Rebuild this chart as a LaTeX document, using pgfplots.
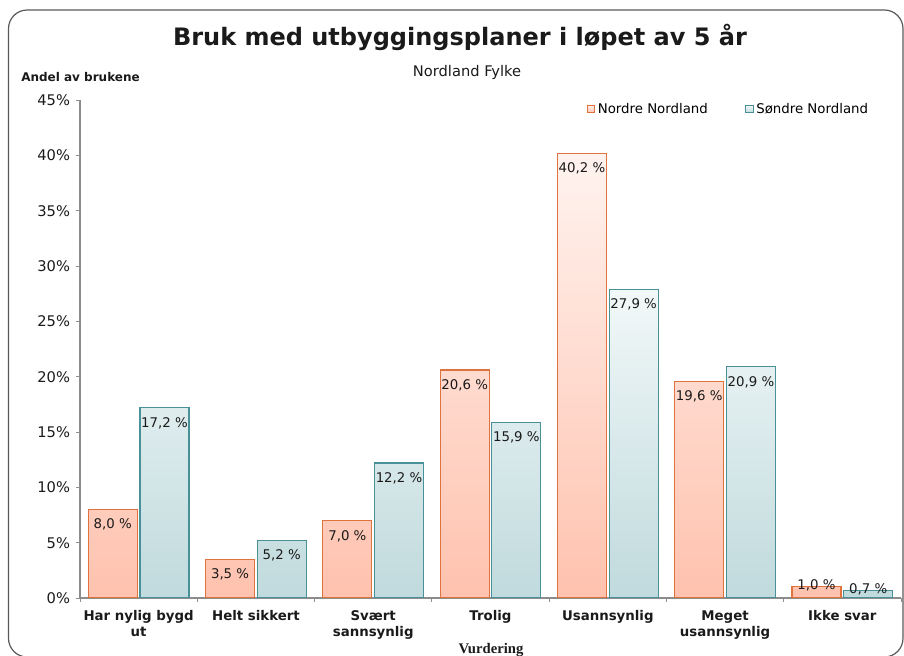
\documentclass[border=0pt]{standalone}
\usepackage{fontspec}
\setmainfont{DejaVu Sans}
\newfontfamily\serifb{Liberation Serif}
\usepackage{pgfplots}
\pgfplotsset{compat=1.18}
\definecolor{oedge}{HTML}{E0723E}
\definecolor{otop}{HTML}{FFF3EF}
\definecolor{obot}{HTML}{FFC2AE}
\definecolor{tedge}{HTML}{4A9098}
\definecolor{ttop}{HTML}{F2F8F8}
\definecolor{tbot}{HTML}{C0DADD}
\definecolor{axgray}{HTML}{8C8C8C}
\definecolor{txt}{HTML}{1A1A1A}
\begin{document}
\begin{tikzpicture}
\useasboundingbox (0,0) rectangle (678pt,492pt);
\begin{scope}[x=0.75pt,y=0.75pt]
\draw[color=black!65, line width=0.9pt, rounded corners=14pt] (8.5,646) rectangle (903,-1);
\node[font=\bfseries\fontsize{18}{21}\selectfont, text=txt] at (460,619) {Bruk med utbyggingsplaner i løpet av 5 år};
\node[font=\fontsize{11}{13}\selectfont, text=txt] at (467,584) {Nordland Fylke};
\node[font=\bfseries\fontsize{9}{10}\selectfont, anchor=west, inner sep=0pt, text=txt] at (21,579) {Andel av brukene};
\node[font=\serifb\bfseries\fontsize{11}{12}\selectfont, text=txt] at (491,6) {Vurdering};
\end{scope}
\begin{axis}[
  at={(60pt,43.5pt)}, anchor=south west,
  width=615.75pt, height=373.5pt, scale only axis,
  ymin=0, ymax=45, xmin=-0.5, xmax=6.5,
  axis x line=bottom, axis y line=left,
  axis line style={-, draw=axgray, line width=0.8pt},
  tick align=outside, major tick length=3pt,
  tick style={draw=axgray, line width=0.6pt},
  /pgf/number format/assume math mode=true,
  ytick={0,5,...,45},
  yticklabel={\pgfmathprintnumber{\tick}\%},
  yticklabel style={font=\fontsize{11}{13}\selectfont, text=txt, xshift=-1pt},
  xtick={-0.5,0.5,...,6.5},
  x tick label as interval,
  xticklabels={Har nylig bygd\\ut, Helt sikkert, Svært\\sannsynlig, Trolig, Usannsynlig, Meget\\usannsynlig, Ikke svar},
  xticklabel style={font=\bfseries\fontsize{10}{12}\selectfont, align=center, text=txt, yshift=-3pt},
  ybar, bar width=0.418,
  visualization depends on={y \as \rawy},
  nodes near coords={\pgfmathprintnumber[fixed,fixed zerofill,precision=1,use comma]{\pgfplotspointmeta}~\%},
  every node near coord/.append style={anchor=center, yshift={\rawy<3 ? 1 : -11.5}, font=\fontsize{10}{12}\selectfont, text=txt},
  legend image code/.code={\draw[#1] (0pt,-2.8pt) rectangle (5.5pt,2.8pt);},
  legend style={at={(0.612,0.982)}, anchor=west, draw=none, fill=none,
    font=\fontsize{10}{11}\selectfont, legend columns=2,
    /tikz/every even column/.append style={column sep=26pt}},
  legend cell align=left,
]
\addplot[draw=oedge, line width=0.8pt, top color=otop, bottom color=obot] coordinates {
  (0,8.0) (1,3.5) (2,7.0) (3,20.6) (4,40.2) (5,19.6) (6,1.0)};
\addplot[draw=tedge, line width=0.8pt, top color=ttop, bottom color=tbot] coordinates {
  (0,17.2) (1,5.2) (2,12.2) (3,15.9) (4,27.9) (5,20.9) (6,0.7)};
\legend{Nordre Nordland, Søndre Nordland}
\end{axis}
\end{tikzpicture}
\end{document}
